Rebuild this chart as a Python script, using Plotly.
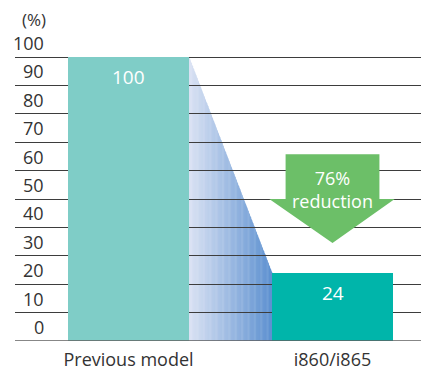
import plotly.graph_objects as go

# ---- data ----
categories = ["Previous model", "i860/i865"]
values = [100, 24]
y_ticks = [0, 10, 20, 30, 40, 50, 60, 70, 80, 90, 100]
unit_label = "(%)"

bar_colors = ["#7fcdc7", "#00b5aa"]
FONT = "Open Sans"
TXT = "#333333"

xpos = list(range(len(categories)))
bar_w = 0.593

fig = go.Figure()
fig.add_trace(go.Bar(
    x=xpos, y=values, width=bar_w,
    marker=dict(color=bar_colors, line=dict(width=0)),
    hoverinfo="skip", showlegend=False,
))

shapes = []
# gradient wedge between the two bars (drawn as thin slices, below gridlines)
x0 = xpos[0] + bar_w / 2
x1 = xpos[1] - bar_w / 2
c0 = (0xda, 0xe2, 0xf3)
c1 = (0x5c, 0x90, 0xd0)
n = 70
for i in range(n):
    ta, tb = i / n, (i + 1) / n
    xa = x0 + (x1 - x0) * ta
    xb = x0 + (x1 - x0) * tb + 0.002
    ya = values[0] + (values[1] - values[0]) * ta
    yb = values[0] + (values[1] - values[0]) * tb
    t = (ta + tb) / 2
    col = "rgb(%d,%d,%d)" % tuple(round(c0[k] + (c1[k] - c0[k]) * t) for k in range(3))
    shapes.append(dict(
        type="path", xref="x", yref="y", layer="below",
        path=f"M {xa},0 L {xa},{ya} L {xb},{yb} L {xb},0 Z",
        fillcolor=col, line=dict(width=0),
    ))

# bottom baseline
shapes.append(dict(type="line", xref="paper", yref="y", x0=0, x1=1, y0=0, y1=0,
                   line=dict(color="rgba(95,95,95,0.75)", width=2), layer="above"))

# green arrow (decoration)
ax = xpos[1]
arrow_path = (f"M {ax-0.23},65.8 L {ax+0.23},65.8 L {ax+0.23},50 L {ax+0.305},50 "
              f"L {ax},34.5 L {ax-0.31},50 L {ax-0.23},50 Z")
shapes.append(dict(type="path", xref="x", yref="y", path=arrow_path,
                   fillcolor="#6cbf68", line=dict(width=0), layer="above"))

annotations = []
# y labels sitting on top of their gridlines
for v in y_ticks:
    annotations.append(dict(x=0.0764, xref="paper", y=v, yref="y", text=str(v),
                            xanchor="right", yanchor="bottom", showarrow=False,
                            font=dict(family=FONT, size=18, color=TXT)))
annotations.append(dict(x=0.082, xref="paper", y=1, yref="paper", yshift=-19,
                        text=unit_label, xanchor="right", yanchor="middle",
                        showarrow=False, font=dict(family=FONT, size=17, color=TXT)))
# value labels inside bars
for xp, v in zip(xpos, values):
    annotations.append(dict(x=xp, y=v, xref="x", yref="y", text=str(v), yshift=-20,
                            xanchor="center", yanchor="middle", showarrow=False,
                            font=dict(family=FONT, size=19, color="white")))
# reduction label
reduction = round((1 - values[1] / values[0]) * 100)
annotations.append(dict(x=ax, y=53.3, xref="x", yref="y",
                        text=f"{reduction}%<br>reduction", xanchor="center",
                        yanchor="middle", showarrow=False,
                        font=dict(family=FONT, size=18, color="white")))

fig.update_layout(
    width=421, height=372,
    margin=dict(l=15, r=0, t=0, b=31, pad=0),
    paper_bgcolor="white", plot_bgcolor="white",
    shapes=shapes, annotations=annotations,
    bargap=0,
    xaxis=dict(range=[-0.5564, 1.4338], tickvals=xpos, ticktext=categories,
               showgrid=False, zeroline=False, showline=False, ticks="",
               tickfont=dict(family=FONT, size=18, color=TXT),
               ticklabelstandoff=6, fixedrange=True),
    yaxis=dict(range=[0, 120.07], tickvals=y_ticks, showticklabels=False,
               showgrid=True, gridcolor="#3d3d3d", gridwidth=1.3,
               zeroline=False, showline=False, ticks="", fixedrange=True),
)

fig.write_html("out.html")
